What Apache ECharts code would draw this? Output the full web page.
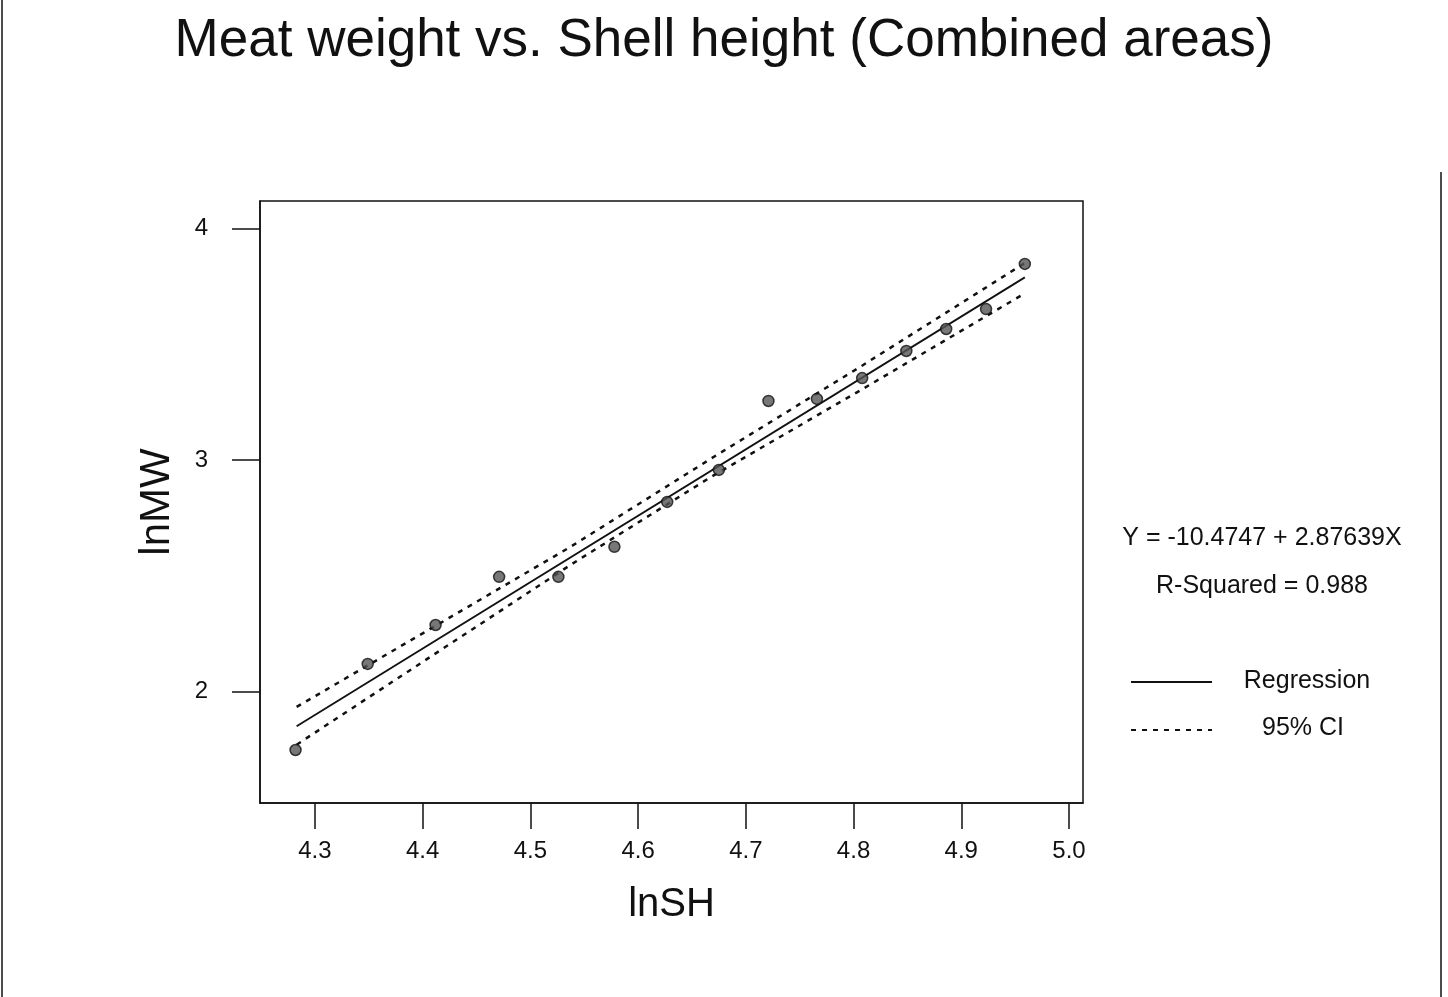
<!DOCTYPE html>
<html>
<head>
<meta charset="utf-8">
<script src="https://cdn.jsdelivr.net/npm/echarts@6/dist/echarts.min.js"></script>
<style>
html,body{margin:0;padding:0;background:#fff;}
#chart{width:1448px;height:997px;}
</style>
</head>
<body>
<div id="chart"></div>
<script>
// ---- data ----
const lnSH = [4.282, 4.349, 4.412, 4.471, 4.526, 4.578, 4.627, 4.675, 4.721, 4.766, 4.808, 4.849, 4.886, 4.923, 4.959];
const lnMW = [1.747, 2.119, 2.287, 2.495, 2.495, 2.625, 2.819, 2.957, 3.255, 3.264, 3.354, 3.471, 3.566, 3.652, 3.847];
const regX = [4.283, 4.959];
const regY = [1.850, 3.789];
const ciX = [4.283, 4.407, 4.537, 4.667, 4.806, 4.959];
const ciUpper = [1.933, 2.270, 2.624, 3.004, 3.402, 3.851];
const ciLower = [1.770, 2.149, 2.546, 2.925, 3.300, 3.720];
const xTicks = [4.3, 4.4, 4.5, 4.6, 4.7, 4.8, 4.9, 5.0];
const yTicks = [2, 3, 4];
const titleText = 'Meat weight vs. Shell height (Combined areas)';
const eqText = 'Y = -10.4747 + 2.87639X';
const r2Text = 'R-Squared = 0.988';
const legendNames = ['Regression', '95% CI'];

const zip = (a, b) => a.map((v, i) => [v, b[i]]);
const FONT = '"Liberation Sans", Arial, Helvetica, sans-serif';
const INK = '#111';
const CI_DASH = [5, 6];

function centeredText(text, cx, cy, size) {
  return {
    type: 'text', x: cx, y: cy, silent: true,
    style: {text: text, fontFamily: FONT, fontSize: size, fill: INK,
      align: 'center', verticalAlign: 'middle', textAlign: 'center', textVerticalAlign: 'middle'}
  };
}

const chart = echarts.init(document.getElementById('chart'), null, {renderer: 'canvas'});
chart.setOption({
  backgroundColor: '#fff',
  animation: false,
  textStyle: {fontFamily: FONT, color: INK},
  title: {
    text: titleText,
    left: 'center',
    top: 10,
    textStyle: {fontFamily: FONT, fontSize: 53, fontWeight: 'normal', color: INK}
  },
  grid: {
    left: 260, top: 201, right: 365, bottom: 194,
    show: true, borderColor: INK, borderWidth: 1.5, backgroundColor: 'transparent'
  },
  xAxis: {
    type: 'value', min: 4.249, max: 5.013,
    name: 'lnSH', nameLocation: 'middle', nameGap: 82,
    nameTextStyle: {fontFamily: FONT, fontSize: 40, color: INK},
    axisLine: {show: true, onZero: false, lineStyle: {color: INK, width: 1.5}},
    axisTick: {show: true, inside: false, length: 26, customValues: xTicks, lineStyle: {color: INK, width: 1.5}},
    axisLabel: {show: true, margin: 36, fontSize: 24, color: INK, fontFamily: FONT,
      customValues: xTicks, formatter: v => v.toFixed(1)},
    splitLine: {show: false}
  },
  yAxis: {
    type: 'value', min: 1.518, max: 4.119,
    name: 'lnMW', nameLocation: 'middle', nameGap: 82, nameRotate: 90,
    nameTextStyle: {fontFamily: FONT, fontSize: 42, color: INK},
    axisLine: {show: true, onZero: false, lineStyle: {color: INK, width: 1.5}},
    axisTick: {show: true, inside: false, length: 28, customValues: yTicks, lineStyle: {color: INK, width: 1.5}},
    axisLabel: {show: true, margin: 52, fontSize: 24, color: INK, fontFamily: FONT,
      customValues: yTicks, formatter: v => String(v)},
    splitLine: {show: false}
  },
  graphic: [
    centeredText(eqText, 1262, 538, 25),
    centeredText(r2Text, 1262, 586, 25),
    {type: 'line', silent: true, shape: {x1: 1131, y1: 682, x2: 1212, y2: 682}, style: {stroke: INK, lineWidth: 1.8}},
    {type: 'line', silent: true, shape: {x1: 1131, y1: 730, x2: 1212, y2: 730}, style: {stroke: INK, lineWidth: 2, lineDash: CI_DASH}},
    centeredText(legendNames[0], 1307, 681, 25),
    centeredText(legendNames[1], 1303, 728, 25),
    {type: 'line', silent: true, shape: {x1: 2, y1: 0, x2: 2, y2: 997}, style: {stroke: INK, lineWidth: 1.5}},
    {type: 'line', silent: true, shape: {x1: 1441, y1: 172, x2: 1441, y2: 997}, style: {stroke: INK, lineWidth: 1.5}}
  ],
  series: [
    {
      name: legendNames[0], type: 'line', data: zip(regX, regY),
      symbol: 'none', lineStyle: {color: INK, width: 1.8, type: 'solid'}, itemStyle: {color: INK}, z: 3
    },
    {
      name: legendNames[1], type: 'line', data: zip(ciX, ciUpper),
      symbol: 'none', lineStyle: {color: INK, width: 2.5, type: CI_DASH}, itemStyle: {color: INK}, z: 3
    },
    {
      name: legendNames[1], type: 'line', data: zip(ciX, ciLower),
      symbol: 'none', lineStyle: {color: INK, width: 2.5, type: CI_DASH}, itemStyle: {color: INK}, z: 3
    },
    {
      name: 'Data', type: 'scatter', data: zip(lnSH, lnMW),
      symbol: 'circle', symbolSize: 11,
      itemStyle: {color: '#555', borderColor: INK, borderWidth: 1.5}, z: 4
    }
  ]
});
</script>
</body>
</html>
